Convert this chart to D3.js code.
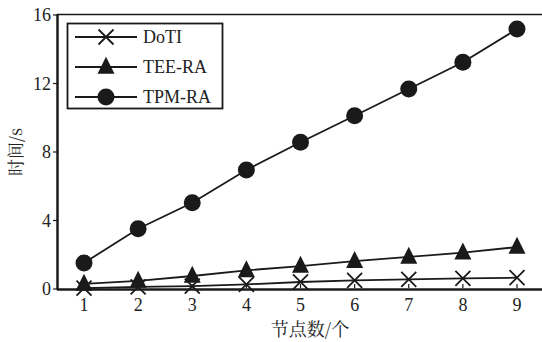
<!DOCTYPE html>
<html>
<head>
<meta charset="utf-8">
<script src="https://cdn.jsdelivr.net/npm/d3@7"></script>
<style>
  html, body { margin: 0; padding: 0; background: #fff; }
  svg text { font-family: "Liberation Serif", "Times New Roman", serif; fill: #222; }
  .cjk { font-family: "Noto Serif CJK SC", "Noto Sans CJK SC", serif; }
</style>
</head>
<body>
<svg id="chart" width="542" height="342"></svg>
<script>
const nodes = [1, 2, 3, 4, 5, 6, 7, 8, 9];
const doti = [0.05, 0.12, 0.17, 0.27, 0.41, 0.5, 0.56, 0.62, 0.66];
const teeRa = [0.3, 0.47, 0.76, 1.09, 1.34, 1.63, 1.87, 2.12, 2.45];
const tpmRa = [1.52, 3.52, 5.04, 6.95, 8.57, 10.12, 11.68, 13.24, 15.18];
const yTicks = [0, 4, 8, 12, 16];

const series = [
  { name: "DoTI", values: doti, marker: "cross" },
  { name: "TEE-RA", values: teeRa, marker: "triangle" },
  { name: "TPM-RA", values: tpmRa, marker: "circle" },
];

const svg = d3.select("#chart");
const ink = "#1a1a1a";

const x = d3.scaleLinear().domain([1, 9]).range([84, 517]);
const y = d3.scaleLinear().domain([0, 16]).range([289, 15]);

// frame: left axis, bottom axis, top line
svg.append("line").attr("x1", 57.5).attr("x2", 57.5).attr("y1", 14).attr("y2", 290)
  .attr("stroke", ink).attr("stroke-width", 2.5);
svg.append("line").attr("x1", 57).attr("x2", 542).attr("y1", 289.5).attr("y2", 289.5)
  .attr("stroke", ink).attr("stroke-width", 2.5);
svg.append("line").attr("x1", 57).attr("x2", 542).attr("y1", 14.5).attr("y2", 14.5)
  .attr("stroke", ink).attr("stroke-width", 1.5);

// y ticks
yTicks.forEach((t) => {
  svg.append("line").attr("x1", 53).attr("x2", 57).attr("y1", y(t)).attr("y2", y(t))
    .attr("stroke", ink).attr("stroke-width", 1.2);
  svg.append("text").attr("x", 51).attr("y", y(t)).attr("dy", "0.35em")
    .attr("text-anchor", "end").attr("font-size", 18).text(t);
});

// x ticks
nodes.forEach((n) => {
  svg.append("line").attr("x1", x(n)).attr("x2", x(n)).attr("y1", 284).attr("y2", 288)
    .attr("stroke", ink).attr("stroke-width", 1.2);
  svg.append("text").attr("x", x(n)).attr("y", 305).attr("dy", "0.35em")
    .attr("text-anchor", "middle").attr("font-size", 18).text(n);
});

// axis titles
svg.append("text").attr("class", "cjk").attr("x", 310).attr("y", 330).attr("dy", "0.35em")
  .attr("text-anchor", "middle").attr("font-size", 18).text("节点数/个");
svg.append("text").attr("class", "cjk")
  .attr("transform", "translate(16,152) rotate(-90)")
  .attr("dy", "0.35em").attr("text-anchor", "middle").attr("font-size", 17).text("时间/s");

function drawMarker(g, kind, cx, cy) {
  if (kind === "circle") {
    g.append("circle").attr("cx", cx).attr("cy", cy).attr("r", 8.5).attr("fill", ink);
  } else if (kind === "triangle") {
    const h = 17, w = 17;
    g.append("path")
      .attr("d", `M${cx},${cy - h * 0.6}L${cx + w / 2},${cy + h * 0.4}L${cx - w / 2},${cy + h * 0.4}Z`)
      .attr("fill", ink);
  } else {
    const s = 7.5;
    g.append("path")
      .attr("d", `M${cx - s},${cy - s}L${cx + s},${cy + s}M${cx - s},${cy + s}L${cx + s},${cy - s}`)
      .attr("stroke", ink).attr("stroke-width", 1.8).attr("fill", "none");
  }
}

const line = d3.line().x((d, i) => x(nodes[i])).y((d) => y(d));

series.forEach((s) => {
  const g = svg.append("g");
  g.append("path").attr("d", line(s.values)).attr("fill", "none")
    .attr("stroke", ink).attr("stroke-width", 1.8);
  s.values.forEach((v, i) => drawMarker(g, s.marker, x(nodes[i]), y(v)));
});

// legend
const lg = svg.append("g");
lg.append("rect").attr("x", 67.5).attr("y", 23.5).attr("width", 155).attr("height", 85)
  .attr("fill", "#fff").attr("stroke", ink).attr("stroke-width", 1.8);
series.forEach((s, i) => {
  const ly = 37 + i * 30;
  lg.append("line").attr("x1", 75).attr("x2", 137).attr("y1", ly).attr("y2", ly)
    .attr("stroke", ink).attr("stroke-width", 1.8);
  drawMarker(lg, s.marker, 106, ly);
  lg.append("text").attr("x", 143).attr("y", ly).attr("dy", "0.35em")
    .attr("font-size", 18).text(s.name);
});
</script>
</body>
</html>
